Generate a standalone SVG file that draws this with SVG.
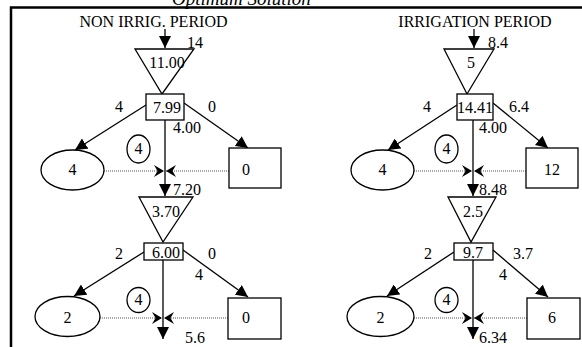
<svg xmlns="http://www.w3.org/2000/svg" width="582" height="347" viewBox="0 0 582 347">
<defs>
<style>
text{font-family:"Liberation Serif","Times New Roman",serif;font-size:16px;fill:#000}
.c{text-anchor:middle}
.ttl{font-style:italic;font-size:19px}
.s{fill:none;stroke:#000;stroke-width:1.3}
.n{fill:#fff;stroke:#000;stroke-width:1.3}
.d{fill:none;stroke:#555;stroke-width:1;stroke-dasharray:1 1}
</style>
<marker id="ah" markerWidth="14" markerHeight="12" refX="12" refY="6" orient="auto" markerUnits="userSpaceOnUse">
<path d="M0,0 L12,6 L0,12 Z" fill="#000"/>
</marker>
<marker id="bh" markerWidth="12" markerHeight="12" refX="10" refY="6" orient="auto" markerUnits="userSpaceOnUse">
<path d="M0,0 L10,6 L0,12 L3.5,6 Z" fill="#000"/>
</marker>
</defs>
<rect width="582" height="347" fill="#fff"/>
<text class="ttl" x="172" y="5">Optimum Solution</text>
<path d="M11,347 V7.5 H582" fill="none" stroke="#000" stroke-width="2.5"/>

<g id="connectors">
<line class="s" x1="165" y1="29" x2="165" y2="48" marker-end="url(#ah)"/>
<line class="s" x1="146" y1="105" x2="75" y2="150" marker-end="url(#ah)"/>
<line class="s" x1="184" y1="103" x2="248" y2="148" marker-end="url(#ah)"/>
<line class="s" x1="165" y1="120" x2="165" y2="196" marker-end="url(#ah)"/>
<line class="d" x1="104" y1="171" x2="164" y2="171" marker-end="url(#bh)"/>
<line class="d" x1="229" y1="171" x2="166" y2="171" marker-end="url(#bh)"/>
<line class="s" x1="144" y1="252" x2="74" y2="296" marker-end="url(#ah)"/>
<line class="s" x1="183" y1="250" x2="248" y2="297" marker-end="url(#ah)"/>
<line class="s" x1="163" y1="260" x2="163" y2="339" marker-end="url(#ah)"/>
<line class="d" x1="100" y1="318" x2="162" y2="318" marker-end="url(#bh)"/>
<line class="d" x1="228" y1="318" x2="164" y2="318" marker-end="url(#bh)"/>

<line class="s" x1="474" y1="29" x2="474" y2="48" marker-end="url(#ah)"/>
<line class="s" x1="457" y1="105" x2="388" y2="150" marker-end="url(#ah)"/>
<line class="s" x1="493" y1="103" x2="548" y2="148" marker-end="url(#ah)"/>
<line class="s" x1="473" y1="120" x2="473" y2="196" marker-end="url(#ah)"/>
<line class="d" x1="414" y1="171" x2="472" y2="171" marker-end="url(#bh)"/>
<line class="d" x1="526" y1="171" x2="474" y2="171" marker-end="url(#bh)"/>
<line class="s" x1="454" y1="252" x2="387" y2="296" marker-end="url(#ah)"/>
<line class="s" x1="493" y1="250" x2="548" y2="297" marker-end="url(#ah)"/>
<line class="s" x1="473" y1="260" x2="473" y2="339" marker-end="url(#ah)"/>
<line class="d" x1="414" y1="318" x2="472" y2="318" marker-end="url(#bh)"/>
<line class="d" x1="527" y1="318" x2="474" y2="318" marker-end="url(#bh)"/>
</g>

<g id="left-title"><text class="c" x="153.5" y="27">NON IRRIG. PERIOD</text></g>
<g id="left-tri1"><polygon class="n" points="135,49 194,49 162,94"/><text class="c" x="167" y="68">11.00</text></g>
<g id="left-box1"><rect class="n" x="146" y="94" width="38" height="26"/><text class="c" x="167" y="113">7.99</text></g>
<g id="left-ell1"><ellipse class="n" cx="72.5" cy="170" rx="31.5" ry="20"/><text class="c" x="72.5" y="175">4</text></g>
<g id="left-circ1"><ellipse class="n" cx="138.5" cy="149" rx="11.5" ry="14"/><text class="c" x="138.5" y="154">4</text></g>
<g id="left-rbox1"><rect class="n" x="229" y="148" width="52" height="40"/><text class="c" x="246" y="175">0</text></g>
<g id="left-tri2"><polygon class="n" points="139,197 193,197 163,242"/><text class="c" x="166" y="217">3.70</text></g>
<g id="left-box2"><rect class="n" x="144" y="243" width="39" height="17"/><text class="c" x="166" y="258">6.00</text></g>
<g id="left-ell2"><ellipse class="n" cx="67.5" cy="316.5" rx="32.5" ry="20"/><text class="c" x="67.5" y="323">2</text></g>
<g id="left-circ2"><ellipse class="n" cx="138.5" cy="300" rx="11.5" ry="12.5"/><text class="c" x="138.5" y="305">4</text></g>
<g id="left-rbox2"><rect class="n" x="228" y="298" width="53" height="41"/><text class="c" x="246" y="323">0</text></g>

<g id="right-title"><text class="c" x="475" y="27">IRRIGATION PERIOD</text></g>
<g id="right-tri1"><polygon class="n" points="444,49 494,49 467,94"/><text class="c" x="471" y="68">5</text></g>
<g id="right-box1"><rect class="n" x="457" y="94" width="36" height="26"/><text class="c" x="475" y="113">14.41</text></g>
<g id="right-ell1"><ellipse class="n" cx="382.5" cy="170" rx="31.5" ry="20"/><text class="c" x="382.5" y="175">4</text></g>
<g id="right-circ1"><ellipse class="n" cx="446.5" cy="149" rx="11.5" ry="14"/><text class="c" x="446.5" y="154">4</text></g>
<g id="right-rbox1"><rect class="n" x="526" y="148" width="52" height="40"/><text class="c" x="552" y="175">12</text></g>
<g id="right-tri2"><polygon class="n" points="448,197 496,197 471,242"/><text class="c" x="473" y="217">2.5</text></g>
<g id="right-box2"><rect class="n" x="454" y="243" width="39" height="17"/><text class="c" x="473" y="258">9.7</text></g>
<g id="right-ell2"><ellipse class="n" cx="380.5" cy="316.5" rx="33.5" ry="20"/><text class="c" x="380.5" y="323">2</text></g>
<g id="right-circ2"><ellipse class="n" cx="446.5" cy="300" rx="11.5" ry="12.5"/><text class="c" x="446.5" y="305">4</text></g>
<g id="right-rbox2"><rect class="n" x="527" y="298" width="53" height="41"/><text class="c" x="552" y="323">6</text></g>

<g id="labels">
<text x="187" y="48">14</text>
<text x="115" y="112">4</text>
<text x="208" y="112">0</text>
<text x="173" y="133">4.00</text>
<text x="173" y="195">7.20</text>
<text x="115" y="259">2</text>
<text x="208" y="259">0</text>
<text x="195" y="280">4</text>
<text x="185" y="343">5.6</text>
<text x="488" y="48">8.4</text>
<text x="423" y="112">4</text>
<text x="509" y="112">6.4</text>
<text x="479" y="133">4.00</text>
<text x="479" y="195">8.48</text>
<text x="424" y="259">2</text>
<text x="513" y="259">3.7</text>
<text x="499" y="280">4</text>
<text x="479" y="343">6.34</text>
</g>
</svg>
